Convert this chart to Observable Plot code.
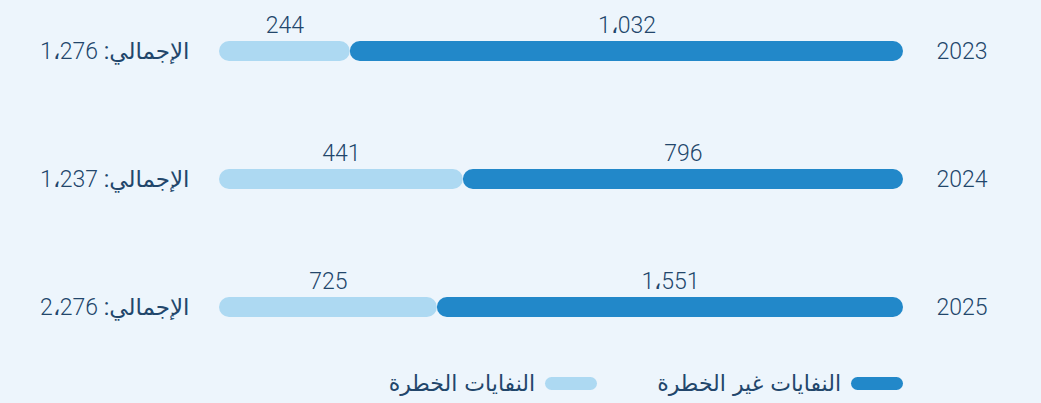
<!DOCTYPE html>
<html>
<head>
<meta charset="utf-8">
<script src="https://cdn.jsdelivr.net/npm/d3@7"></script>
<script src="https://cdn.jsdelivr.net/npm/@observablehq/plot@0.6"></script>
<style>
  html, body { margin: 0; padding: 0; background: #EDF5FC; }
  #legend {
    direction: rtl; display: flex; align-items: center; box-sizing: border-box;
    height: 43px; padding-right: 138px; padding-top: 4px; gap: 60px;
    font-family: "DejaVu Sans", sans-serif; font-size: 22px; color: #22466b;
  }
  .item { display: flex; align-items: center; gap: 10px; }
  .pill { width: 52px; height: 13px; border-radius: 7px; display: inline-block; }
</style>
</head>
<body>
<div id="chart"></div>
<div id="legend"></div>
<script>
const years = ["2023", "2024", "2025"];
const nonHazardous = [1032, 796, 1551];
const hazardous = [244, 441, 725];
const totals = [1276, 1237, 2276];
const seriesNames = ["النفايات غير الخطرة", "النفايات الخطرة"];
const seriesColors = ["#2288C9", "#ADD9F2"];
const totalPrefix = "الإجمالي: ";

const fmt = d3.formatLocale({decimal: ".", thousands: "،", grouping: [3], currency: ["", ""]}).format(",d");

const rows = [];
years.forEach((y, i) => {
  rows.push({year: y, type: seriesNames[0], value: nonHazardous[i]});
  rows.push({year: y, type: seriesNames[1], value: hazardous[i]});
});
const totalRows = years.map((y, i) => ({year: y, total: totals[i]}));

const textColor = "#22466b";
const stackOpts = {x: "value", y: "year", z: "type", offset: "normalize", order: seriesNames};

const chart = Plot.plot({
  width: 1041,
  height: 360,
  marginLeft: 219,
  marginRight: 138,
  marginTop: 40,
  marginBottom: 43,
  style: {fontFamily: "Roboto, 'DejaVu Sans', sans-serif", fontSize: "23px", color: textColor, background: "#EDF5FC"},
  x: {reverse: true, axis: null},
  y: {domain: years, paddingInner: 0.844, paddingOuter: 0, label: null},
  color: {domain: seriesNames, range: seriesColors},
  marks: [
    Plot.barX(rows, Plot.stackX({...stackOpts, fill: "type", rx: 10})),
    Plot.text(rows, Plot.stackX({...stackOpts, text: d => fmt(d.value), lineAnchor: "bottom", dy: -19, fill: textColor, fontWeight: 300})),
    Plot.text(totalRows, {y: "year", frameAnchor: "left", textAnchor: "end", dx: -30, fill: textColor,
      text: d => fmt(d.total), className: "totals"}),
    Plot.axisY({anchor: "right", tickSize: 0, tickPadding: 33, label: null, fontWeight: 300})
  ]
});
document.getElementById("chart").appendChild(chart);

// split total labels: Arabic prefix (regular) + number (light), in an RTL embedding
d3.select(chart).selectAll(".totals text").each(function() {
  const t = d3.select(this);
  const num = t.text();
  t.text("");
  t.append("tspan").text("\u202B" + totalPrefix).attr("font-weight", 400);
  t.append("tspan").text(num + "\u202C").attr("font-weight", 300);
});

const legend = document.getElementById("legend");
seriesNames.forEach((name, i) => {
  const item = document.createElement("div");
  item.className = "item";
  const pill = document.createElement("span");
  pill.className = "pill";
  pill.style.background = seriesColors[i];
  const label = document.createElement("span");
  label.textContent = name;
  item.appendChild(pill);
  item.appendChild(label);
  legend.appendChild(item);
});
</script>
</body>
</html>
